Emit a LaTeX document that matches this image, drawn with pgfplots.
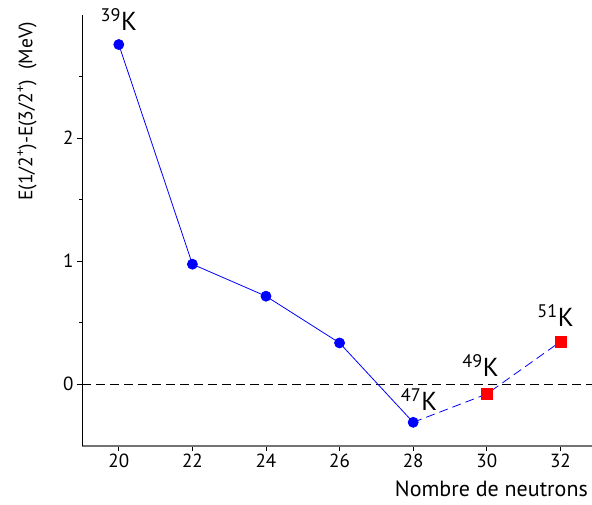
\documentclass[border=0pt]{standalone}
\usepackage{fontspec}
\setmainfont{PT Sans}
\usepackage{pgfplots}
\pgfplotsset{compat=1.18}
\definecolor{pblue}{RGB}{0,0,255}
\definecolor{pred}{RGB}{255,0,0}
\begin{document}
\begin{tikzpicture}
\useasboundingbox (0,0) rectangle (592pt,504pt);
\begin{axis}[
  at={(82pt,58.3pt)}, anchor=south west,
  scale only axis, width=510pt, height=430.7pt,
  xmin=19, xmax=32.86, ymin=-0.5, ymax=3.0,
  axis lines*=left,
  x axis line style={-, draw=gray!90!black, line width=2pt},
  y axis line style={-, draw=black, line width=1pt},
  xtick={20,22,...,32}, ytick={0,1,2},
  minor ytick={0.5,1.5,2.5},
  tick align=outside,
  major tick length=5pt, minor tick length=3pt,
  every tick/.style={black, line width=0.8pt},
  /pgf/number format/assume math mode=true,
  tick label style={font=\fontsize{19}{21}\selectfont},
  clip=false,
]
\addplot[black, dashed, line width=1pt, dash pattern=on 9pt off 5pt, forget plot] coordinates {(19,0) (32.86,0)};
\addplot[pblue, line width=0.8pt, mark=*, mark size=5pt, mark options={solid}] coordinates {
(20,2.76) (22,0.975) (24,0.715) (26,0.335) (28,-0.31)};
\addplot[pblue, line width=0.8pt, dash pattern=on 9pt off 5pt] coordinates {(28,-0.31) (30,-0.08) (32,0.345)};
\addplot[only marks, mark=square*, mark size=5.5pt, pred] coordinates {(30,-0.08) (32,0.345)};
\node[font=\fontsize{26}{28}\selectfont, inner sep=0pt] at (axis cs:20,2.966) {\textsuperscript{39}K};
\node[font=\fontsize{26}{28}\selectfont, inner sep=0pt] at (axis cs:28.16,-0.124) {\textsuperscript{47}K};
\node[font=\fontsize{26}{28}\selectfont, inner sep=0pt] at (axis cs:29.83,0.15) {\textsuperscript{49}K};
\node[font=\fontsize{26}{28}\selectfont, inner sep=0pt] at (axis cs:31.87,0.56) {\textsuperscript{51}K};
\node[rotate=90, font=\fontsize{19.5}{21}\selectfont, inner sep=0pt] at ([xshift=-55pt]rel axis cs:0,0.776) {E(1/2\textsuperscript{+})-E(3/2\textsuperscript{+})\ \ (MeV)};
\node[anchor=east, font=\fontsize{22}{24}\selectfont, inner sep=0pt] at ([yshift=-43pt,xshift=-4pt]rel axis cs:1,0) {Nombre de neutrons};
\end{axis}
\end{tikzpicture}
\end{document}
